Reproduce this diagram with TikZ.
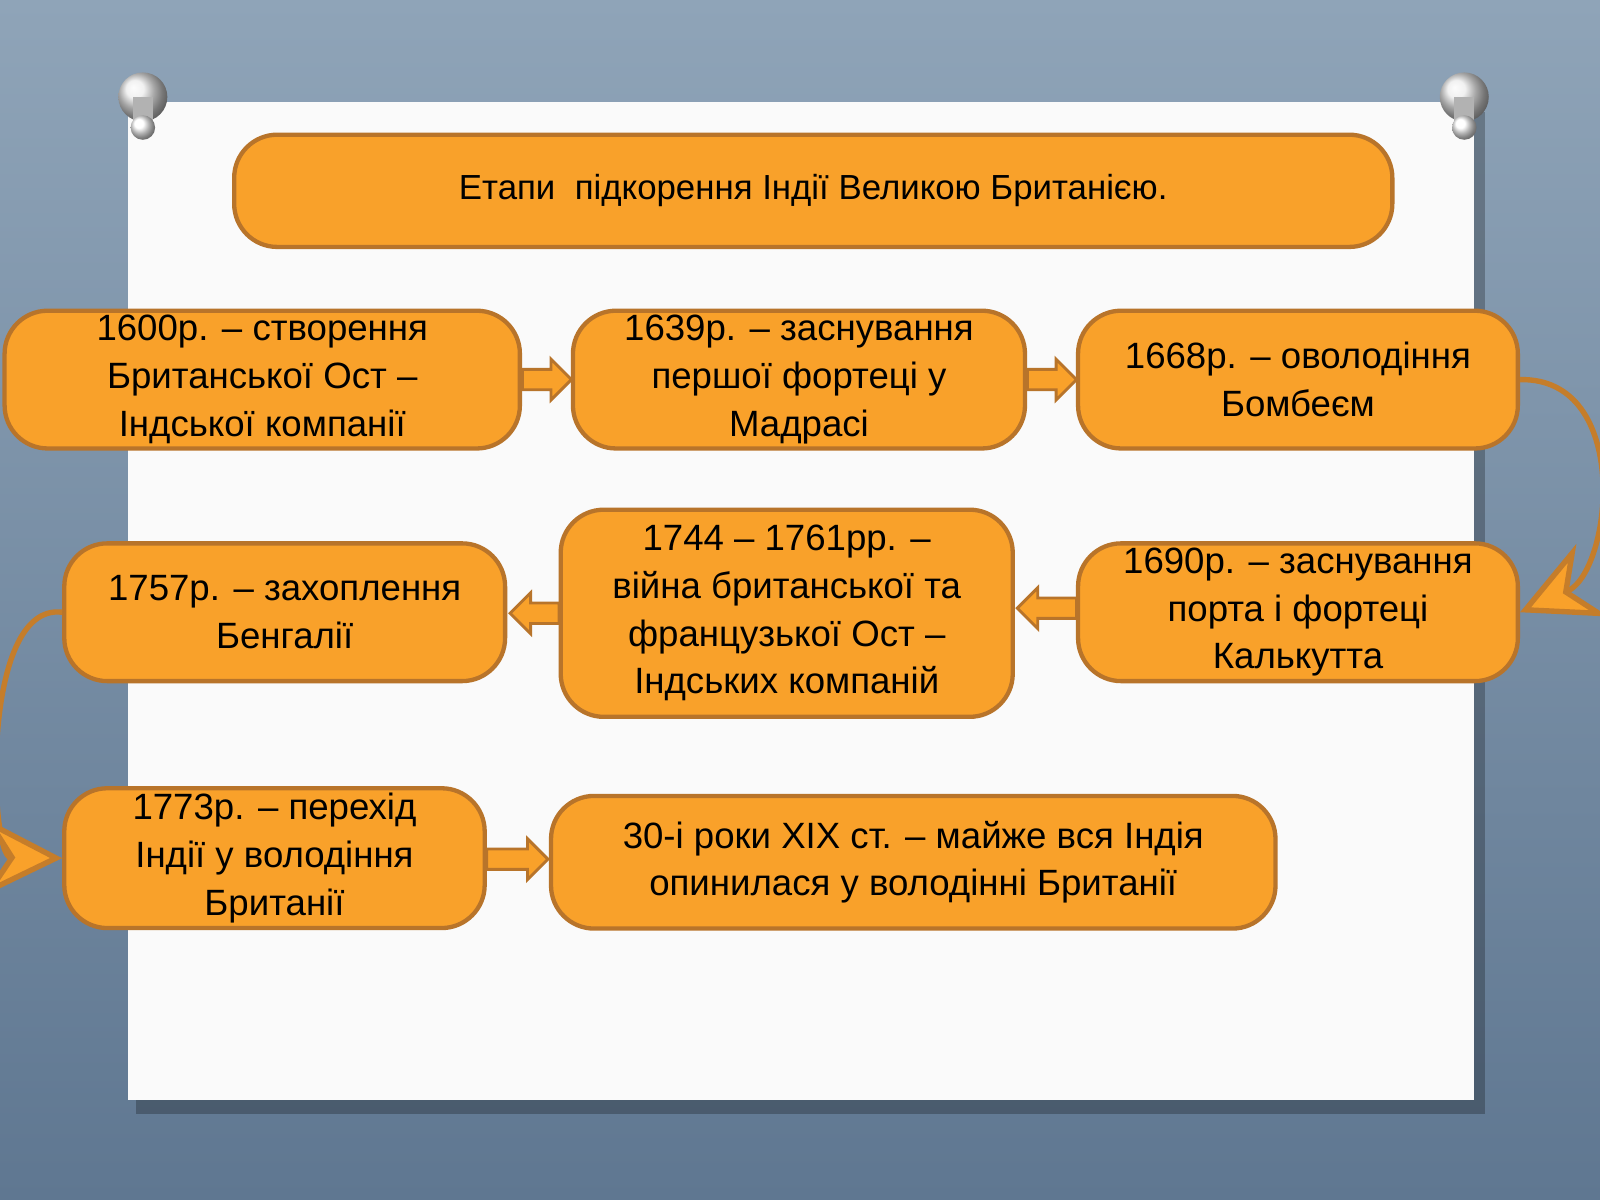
\documentclass[tikz,border=0pt]{standalone}
\usepackage{fontspec}
\setmainfont{Liberation Sans}
\usetikzlibrary{arrows.meta,shadows}
\definecolor{org}{HTML}{F9A12A}
\definecolor{orgd}{HTML}{B8742A}
\definecolor{bgA}{HTML}{8FA4B8}
\definecolor{bgB}{HTML}{5F7791}
\begin{document}
\begin{tikzpicture}[x=0.01cm,y=-0.01cm,
  box/.style={draw=orgd,line width=1.2pt,fill=org,rounded corners=12pt,align=center,
    font=\fontsize{10.2pt}{13.3pt}\selectfont,inner sep=0pt},
  barrow/.style={fill=org,draw=orgd,line width=0.8pt},
  carrow/.style={draw=orgd!80!org,line width=1.5pt,-{Stealth[length=22pt,width=22pt,fill=org]}}]
\useasboundingbox (0,0) rectangle (1568,1176);
\shade[top color=bgA,bottom color=bgB] (0,0) rectangle (1568,1176);
\fill[black,opacity=0.25] (133,110) rectangle (1455,1092);
\fill[white!96!gray] (125,100) rectangle (1445,1078);
% pins
\foreach \px in {140,1435}{
  \shade[ball color=white!85!gray] (\px,95) circle (24);
  \fill[gray!60] (\px-10,95) rectangle (\px+10,122);
  \shade[ball color=white] (\px,125) circle (12);
}
\node[box,minimum width=1135*0.01cm,minimum height=110*0.01cm,font=\fontsize{9.7pt}{12pt}\selectfont] (t) at (797,187) {Етапи\ \ підкорення\ Індії\ Великою\ Британією.};
\node[box,minimum width=505*0.01cm,minimum height=135*0.01cm] (a) at (257,372) {1600р. – створення\\Британської Ост –\\Індської компанії};
\node[box,minimum width=443*0.01cm,minimum height=135*0.01cm] (b) at (783,372) {1639р. – заснування\\першої фортеці у\\Мадрасі};
\node[box,minimum width=431*0.01cm,minimum height=135*0.01cm] (c) at (1272,372) {1668р. – оволодіння\\Бомбеєм};
\node[box,minimum width=431*0.01cm,minimum height=135*0.01cm] (d) at (1272,600) {1690р. – заснування\\порта і фортеці\\Калькутта};
\node[box,minimum width=443*0.01cm,minimum height=203*0.01cm] (e) at (771,601) {1744 – 1761рр. –\\війна британської та\\французької Ост –\\Індських компаній};
\node[box,minimum width=432*0.01cm,minimum height=135*0.01cm] (f) at (279,600) {1757р. – захоплення\\Бенгалії};
\node[box,minimum width=412*0.01cm,minimum height=137*0.01cm] (g) at (269,841) {1773р. – перехід\\Індії у володіння\\Британії};
\node[box,minimum width=710*0.01cm,minimum height=130*0.01cm] (h) at (895,845) {30-і роки XIX ст. – майже вся Індія\\опинилася у володінні Британії};
% block arrows (right)
\foreach \x/\y/\l in {512/372/48,1007/372/48,477/842/60}{
  \draw[barrow] (\x,\y-10) -- (\x+\l-20,\y-10) -- (\x+\l-20,\y-20) -- (\x+\l,\y) -- (\x+\l-20,\y+20) -- (\x+\l-20,\y+10) -- (\x,\y+10) -- cycle;
}
% block arrows (left)
\foreach \x/\y/\l in {1055/596/58,548/601/48}{
  \draw[barrow] (\x,\y-10) -- (\x-\l+20,\y-10) -- (\x-\l+20,\y-20) -- (\x-\l,\y) -- (\x-\l+20,\y+20) -- (\x-\l+20,\y+10) -- (\x,\y+10) -- cycle;
}
\draw[carrow] (c.east) .. controls (1600,370) and (1580,560) .. (d.east);
\draw[carrow] (f.west) .. controls (-20,590) and (-10,840) .. (g.west);
\end{tikzpicture}
\end{document}
